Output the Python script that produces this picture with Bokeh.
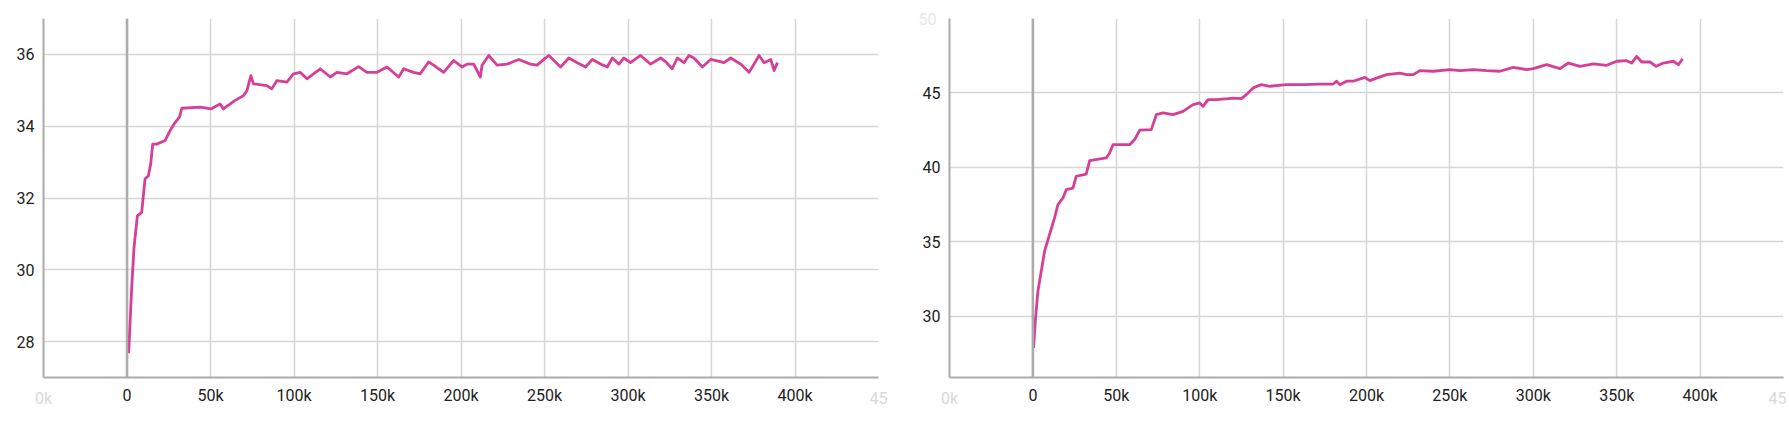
from bokeh.plotting import figure
from bokeh.layouts import row
from bokeh.models import FixedTicker, Span, Range1d, LinearAxis
from bokeh.embed import file_html
from bokeh.resources import INLINE

# ---- data ----
left_steps = [1000, 2800, 4200, 6200, 8800, 10800, 12800, 14200, 15400, 17800,
              22800, 25800, 28800, 31400, 32800, 43800, 50200, 55800, 57700, 64700,
              69700, 71800, 74200, 75700, 83700, 86700, 89700, 95700, 99700, 103700,
              107700, 115700, 121700, 125700, 131700, 138700, 143700, 149700, 155700, 162700,
              165700, 171600, 175600, 180600, 183600, 189600, 195600, 200600, 203600, 207600,
              211600, 212600, 216600, 221600, 227600, 234600, 241600, 245600, 249600, 252600,
              259600, 264600, 269600, 274600, 278600, 283600, 287600, 290600, 294600, 297500,
              301500, 307500, 313500, 319500, 322500, 326500, 329500, 333500, 336500, 339500,
              344500, 349500, 353500, 357500, 361500, 367500, 372500, 375500, 378500, 381500,
              385500, 387500, 389500]
left_vals = [27.68, 29.5, 30.62, 31.5, 31.6, 32.53, 32.62, 32.95, 33.5, 33.5,
             33.6, 33.88, 34.1, 34.25, 34.5, 34.53, 34.48, 34.62, 34.48, 34.72,
             34.85, 34.99, 35.41, 35.18, 35.13, 35.04, 35.27, 35.23, 35.46, 35.5,
             35.32, 35.6, 35.37, 35.5, 35.46, 35.66, 35.5, 35.5, 35.65, 35.37,
             35.6, 35.5, 35.46, 35.79, 35.7, 35.5, 35.83, 35.65, 35.73, 35.73,
             35.37, 35.7, 35.97, 35.7, 35.73, 35.86, 35.73, 35.7, 35.86, 35.97,
             35.65, 35.9, 35.77, 35.65, 35.86, 35.73, 35.65, 35.9, 35.73, 35.9,
             35.77, 35.97, 35.73, 35.9, 35.8, 35.6, 35.9, 35.77, 35.97, 35.9,
             35.65, 35.86, 35.82, 35.77, 35.9, 35.73, 35.5, 35.73, 35.97, 35.77,
             35.86, 35.55, 35.77]

right_steps = [400, 1600, 3000, 5000, 7000, 10000, 13000, 15000, 18000, 20000,
               24000, 26000, 32000, 34000, 44000, 46000, 48000, 58000, 61000, 64000,
               71000, 74000, 78000, 84000, 90000, 96000, 100000, 102000, 105000, 110000,
               117000, 120000, 125000, 128000, 132000, 137000, 142000, 152000, 162000, 172000,
               180000, 182000, 184000, 188000, 192000, 199000, 202000, 206000, 212000, 220000,
               224000, 228000, 232000, 240000, 250000, 256000, 264000, 272000, 280000, 288000,
               296000, 300000, 308000, 316000, 321000, 328000, 336000, 344000, 350000, 356000,
               359000, 362000, 365000, 370000, 373600, 378000, 384000, 387000, 389500]
right_vals = [27.89, 29.9, 31.69, 33.03, 34.38, 35.5, 36.61, 37.51, 37.95, 38.51,
              38.62, 39.41, 39.56, 40.46, 40.64, 40.97, 41.53, 41.53, 41.87, 42.5,
              42.54, 43.55, 43.66, 43.55, 43.77, 44.22, 44.33, 44.1, 44.55, 44.55,
              44.62, 44.66, 44.62, 44.89, 45.34, 45.56, 45.45, 45.56, 45.56, 45.6,
              45.6, 45.79, 45.56, 45.79, 45.79, 46.05, 45.83, 46.0, 46.23, 46.34,
              46.23, 46.23, 46.5, 46.46, 46.57, 46.5, 46.57, 46.5, 46.46, 46.72,
              46.57, 46.64, 46.9, 46.64, 47.01, 46.79, 46.95, 46.86, 47.13, 47.17,
              47.01, 47.46, 47.08, 47.08, 46.79, 47.01, 47.13, 46.9, 47.3]

x_ticks = [-50000, 0, 50000, 100000, 150000, 200000, 250000, 300000, 350000, 400000, 450000]
x_labels = {-50000: "", 0: "0", 50000: "50k", 100000: "100k", 150000: "150k",
            200000: "200k", 250000: "250k", 300000: "300k", 350000: "350k",
            400000: "400k", 450000: ""}
x_edge_ticks = [-50000, 450000]
x_edge_labels = {-50000: "0k", 450000: "45"}
left_y_ticks = [28, 30, 32, 34, 36]
right_y_ticks = [30, 35, 40, 45, 50]

LINE = "#d63f96"
GRID = "#d6d6d6"
AXIS = "#ababab"
TEXT = "#212121"
FADED = "#d9d9d9"
FADED_TOP = "#e6e6e6"
FONT = "Roboto"


def style_axis(ax, color, standoff):
    ax.axis_line_color = AXIS
    ax.axis_line_width = 2
    ax.major_tick_line_color = None
    ax.minor_tick_line_color = None
    ax.major_tick_out = 0
    ax.major_tick_in = 0
    ax.major_label_text_font = FONT
    ax.major_label_text_font_size = "16px"
    ax.major_label_text_color = color
    ax.major_label_standoff = standoff


def make(steps, vals, yr, yticks, yover, b_left, b_right, fw):
    p = figure(frame_width=fw, frame_height=359,
               min_border_left=b_left, min_border_right=b_right,
               min_border_top=18, min_border_bottom=40,
               x_range=Range1d(-50000, 450000), y_range=Range1d(*yr),
               output_backend="svg", toolbar_location=None)
    p.outline_line_color = None
    p.background_fill_color = "white"
    p.border_fill_color = "white"
    p.xaxis.ticker = FixedTicker(ticks=x_ticks)
    p.xaxis.major_label_overrides = x_labels
    p.yaxis.ticker = FixedTicker(ticks=yticks)
    p.yaxis.major_label_overrides = yover
    style_axis(p.xaxis[0], TEXT, 8)
    style_axis(p.yaxis[0], TEXT, 9)
    p.xgrid.ticker = FixedTicker(ticks=x_ticks)
    p.ygrid.ticker = FixedTicker(ticks=yticks)
    p.grid.grid_line_color = GRID
    p.grid.grid_line_width = 1.5
    p.add_layout(Span(location=0, dimension="height", line_color=AXIS, line_width=2.5))
    p.line(steps, vals, line_color=LINE, line_width=2.8, line_join="round")
    # faded edge labels: a second axis whose labels are pulled back onto the first row
    edge = LinearAxis(ticker=FixedTicker(ticks=x_edge_ticks),
                      major_label_overrides=x_edge_labels)
    style_axis(edge, FADED, -19)
    edge.axis_line_color = None
    p.add_layout(edge, "below")
    return p


p1 = make(left_steps, left_vals, (27.0, 37.0), left_y_ticks, {}, 43, 10, 835)
p2 = make(right_steps, right_vals, (25.9, 50.0), right_y_ticks, {50: ""}, 61, 3, 834)
top_edge = LinearAxis(ticker=FixedTicker(ticks=[50]), major_label_overrides={50: "50"})
style_axis(top_edge, FADED_TOP, -17)
top_edge.axis_line_color = None
p2.add_layout(top_edge, "left")

layout = row(p1, p2, spacing=0)
open("out.html", "w").write(file_html(layout, INLINE))
